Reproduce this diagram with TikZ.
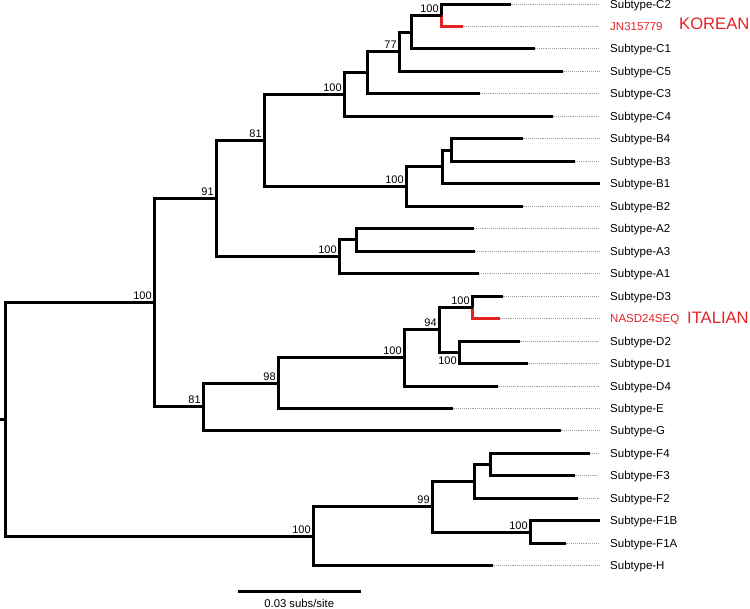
\documentclass[tikz,border=0pt]{standalone}
\usepackage{fontspec}
\setmainfont{Liberation Sans}
\definecolor{treered}{RGB}{228,34,34}
\definecolor{dotgray}{RGB}{160,160,160}
\begin{document}
\begin{tikzpicture}[x=1pt,y=-1pt,
  branch/.style={line width=3pt, line join=miter},
  redbranch/.style={branch, draw=treered},
  dotline/.style={draw=dotgray, line width=0.6pt, dash pattern=on 0.6pt off 1.3pt},
  leaf/.style={anchor=base west, inner sep=0pt, yshift=-4.2pt, font=\fontsize{11.5}{13}\selectfont},
  support/.style={anchor=base east, inner sep=0pt, font=\fontsize{11}{13}\selectfont},
  tag/.style={anchor=base west, inner sep=0pt, text=treered, font=\fontsize{16.6}{19}\selectfont}]
\useasboundingbox (0,0) rectangle (750,609);

% leaves: name / tip x / y / label
\foreach \n/\tx/\yy/\t in {
  C2/510.5/4.5/Subtype-C2, C1/535/48.5/Subtype-C1, C5/562.5/71.5/Subtype-C5,
  C3/480/93.5/Subtype-C3, C4/552.5/116.5/Subtype-C4, B4/522.5/138.5/Subtype-B4,
  B3/575/161.5/Subtype-B3, B1/600/183.5/Subtype-B1, B2/522.5/206.5/Subtype-B2,
  A2/474/228.5/Subtype-A2, A3/475/251.5/Subtype-A3, A1/479/273.5/Subtype-A1,
  D3/502.5/296.5/Subtype-D3, D2/519.5/341.5/Subtype-D2, D1/527.5/363.5/Subtype-D1,
  D4/497.5/386.5/Subtype-D4, E/452.5/408.5/Subtype-E, G/560.5/430.5/Subtype-G,
  F4/590/453.5/Subtype-F4, F3/574.5/475.5/Subtype-F3, F2/577.5/498.5/Subtype-F2,
  F1B/600/520.5/Subtype-F1B, F1A/565.5/543.5/Subtype-F1A, H/492.5/565.5/Subtype-H} {
  \coordinate (\n) at (\tx,\yy);
  \coordinate (e\n) at (599,\yy);
  \node[leaf] (l\n) at (610,\yy) {\t};
  \draw[dotline] (\n) -- (e\n);
}
% red leaves
\coordinate (JN) at (462.5,26.5);
\coordinate (eJN) at (599,26.5);
\node[leaf, text=treered] (lJN) at (610,26.5) {JN315779};
\draw[dotline] (JN) -- (eJN);
\coordinate (NASD) at (500,318.5);
\coordinate (eNASD) at (599,318.5);
\node[leaf, text=treered] (lNASD) at (610,318.5) {NASD24SEQ};
\draw[dotline] (NASD) -- (eNASD);

\node[tag] (korean) at (679,30) {KOREAN};
\node[tag] (italian) at (687,323.3) {ITALIAN};

% internal nodes
\coordinate (stub) at (0,419.5);
\coordinate (root) at (5.5,419.5);
\coordinate (n100a) at (154.5,302.5);
\coordinate (n91) at (216.5,198.5);
\coordinate (n81t) at (264.5,140.5);
\coordinate (nC4) at (344.5,94.5);
\coordinate (nC3) at (367.5,72.5);
\coordinate (nC5) at (399.5,51.5);
\coordinate (nC1) at (411.5,32.5);
\coordinate (nC2JN) at (441.5,15.5);
\coordinate (nB) at (406.5,186.5);
\coordinate (nB1) at (442.5,166.5);
\coordinate (nB43) at (451.5,150.5);
\coordinate (nA) at (339.5,256.5);
\coordinate (nA23) at (356.5,239.5);
\coordinate (n81b) at (203.5,406.5);
\coordinate (n98) at (278.5,383.5);
\coordinate (nD) at (404.5,357.5);
\coordinate (n94) at (439.5,329.5);
\coordinate (nD3N) at (472.5,307.5);
\coordinate (nD21) at (459.5,352.5);
\coordinate (nFH) at (313.5,536.5);
\coordinate (n99) at (432.5,506.5);
\coordinate (nF432) at (474.5,481.5);
\coordinate (nF43) at (490.5,464.5);
\coordinate (nF1) at (530.5,532.5);

% branches
\draw[redbranch] (nC2JN) |- (JN);
\draw[redbranch] (nD3N) |- (NASD);
\draw[branch] (stub) -- (root);
\draw[branch] (root) |- (n100a);
\draw[branch] (root) |- (nFH);
\draw[branch] (n100a) |- (n91);
\draw[branch] (n100a) |- (n81b);
\draw[branch] (n91) |- (n81t);
\draw[branch] (n91) |- (nA);
\draw[branch] (n81t) |- (nC4);
\draw[branch] (n81t) |- (nB);
\draw[branch] (nC4) |- (nC3);
\draw[branch] (nC4) |- (C4);
\draw[branch] (nC3) |- (nC5);
\draw[branch] (nC3) |- (C3);
\draw[branch] (nC5) |- (nC1);
\draw[branch] (nC5) |- (C5);
\draw[branch] (nC1) |- (nC2JN);
\draw[branch] (nC1) |- (C1);
\draw[branch] (nC2JN) |- (C2);
\draw[branch] (nB) |- (nB1);
\draw[branch] (nB) |- (B2);
\draw[branch] (nB1) |- (nB43);
\draw[branch] (nB1) |- (B1);
\draw[branch] (nB43) |- (B4);
\draw[branch] (nB43) |- (B3);
\draw[branch] (nA) |- (nA23);
\draw[branch] (nA) |- (A1);
\draw[branch] (nA23) |- (A2);
\draw[branch] (nA23) |- (A3);
\draw[branch] (n81b) |- (n98);
\draw[branch] (n81b) |- (G);
\draw[branch] (n98) |- (nD);
\draw[branch] (n98) |- (E);
\draw[branch] (nD) |- (n94);
\draw[branch] (nD) |- (D4);
\draw[branch] (n94) |- (nD3N);
\draw[branch] (n94) |- (nD21);
\draw[branch] (nD3N) |- (D3);
\draw[branch] (nD21) |- (D2);
\draw[branch] (nD21) |- (D1);
\draw[branch] (nFH) |- (n99);
\draw[branch] (nFH) |- (H);
\draw[branch] (n99) |- (nF432);
\draw[branch] (n99) |- (nF1);
\draw[branch] (nF432) |- (nF43);
\draw[branch] (nF432) |- (F2);
\draw[branch] (nF43) |- (F4);
\draw[branch] (nF43) |- (F3);
\draw[branch] (nF1) |- (F1B);
\draw[branch] (nF1) |- (F1A);

% support values
\foreach \c/\v in {n100a/100, n91/91, n81t/81, nC4/100, nC5/77, nC2JN/100,
  nB/100, nA/100, n81b/81, n98/98, nD/100, n94/94, nD3N/100, nFH/100,
  n99/99, nF1/100} {
  \node[support, xshift=-2.6pt, yshift=3pt] (s\c) at (\c) {\v};
}
\node[support, xshift=-2.6pt, yshift=-11.7pt] (snD21) at (nD21) {100};

% scale bar
\coordinate (sb1) at (237.5,591.5);
\coordinate (sb2) at (361,591.5);
\draw[line width=2.5pt] (sb1) -- (sb2);
\node[anchor=base, inner sep=0pt, font=\fontsize{11.3}{13}\selectfont] (sbl) at (299.2,607.3) {0.03 subs/site};
\end{tikzpicture}
\end{document}
